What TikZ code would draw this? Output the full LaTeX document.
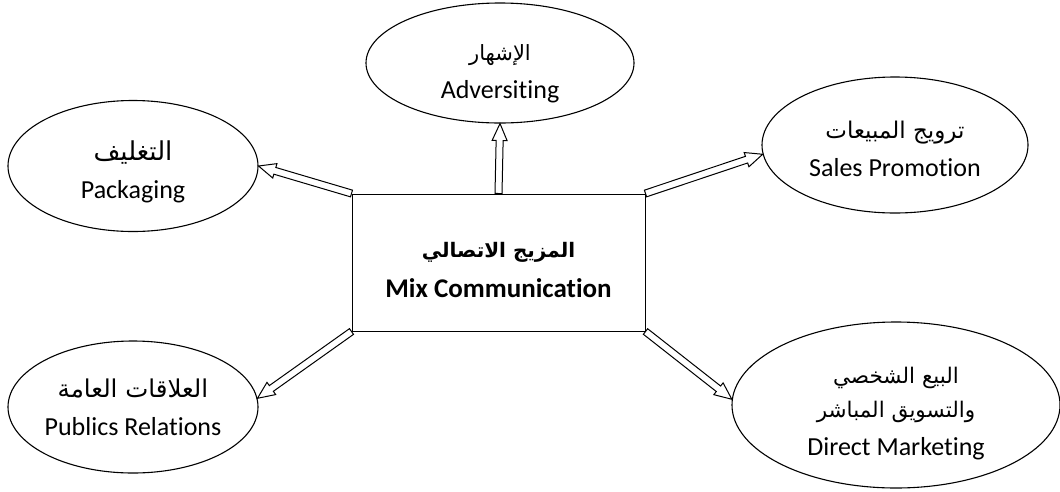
\documentclass[tikz,border=0pt]{standalone}
\usepackage{fontspec}
\setmainfont{Carlito}[Ligatures=CommonOff]
\newfontfamily\ar[Script=Arabic]{DejaVu Sans}
\TeXXeTstate=1
\usetikzlibrary{shapes.geometric,calc,backgrounds}
\newcommand\AR[2][23]{{\ar\fontsize{#1}{#1}\selectfont\beginR #2\endR}}
\newcommand\topgap[1]{\rule{0pt}{#1}}
\newcommand\blkarrow[2]{%
  \coordinate (hb) at ($(#2)!17pt!(#1)$);
  \draw[blockarrow] ($(#1)!3.5pt!90:(#2)$) -- ($(hb)!3.5pt!90:(#2)$)
    -- ($(hb)!7.5pt!90:(#2)$) -- (#2) -- ($(hb)!7.5pt!-90:(#2)$)
    -- ($(hb)!3.5pt!-90:(#2)$) -- ($(#1)!3.5pt!-90:(#2)$) -- cycle;}
\begin{document}
\begin{tikzpicture}[x=1pt,y=-1pt,
  bubble/.style={ellipse, draw, line width=1.1pt, inner sep=0pt, align=center,
    font=\fontsize{26}{38}\selectfont},
  mainbox/.style={rectangle, draw, line width=1pt, inner sep=0pt, align=center,
    font=\bfseries\fontsize{27}{40}\selectfont},
  blockarrow/.style={draw, line width=1pt, fill=white, line join=miter}]
\useasboundingbox (0,0) rectangle (1060,491);
\node[mainbox, minimum width=293, minimum height=137] (mc) at (498.5,262.5)
  {\topgap{30pt}{\bfseries\AR[20]{المزيج الاتصالي}}\\Mix Communication};
\node[bubble, minimum width=268, minimum height=120] (ad) at (500,63)
  {\topgap{38pt}\AR[21]{الإشهار}\\Adversiting};
\node[bubble, minimum width=250, minimum height=131] (pk) at (133,166)
  {\topgap{31pt}\AR[26]{التغليف}\\Packaging};
\node[bubble, minimum width=266, minimum height=136] (sp) at (895,145)
  {\topgap{26pt}\AR[23]{ترويج المبيعات}\\Sales Promotion};
\node[bubble, minimum width=250, minimum height=132] (pr) at (133,407)
  {\AR[24.5]{العلاقات العامة}\\Publics Relations};
\node[bubble, minimum width=328, minimum height=166] (dm) at (896,405)
  {\topgap{33pt}\AR[21.5]{البيع الشخصي}\\[-4pt]\AR[21.5]{والتسويق المباشر}\\Direct Marketing};
\begin{scope}[on background layer]
\blkarrow{mc.north}{ad.south}
\blkarrow{mc.north west}{pk.east}
\blkarrow{mc.north east}{sp.184}
\blkarrow{mc.south west}{pr.4}
\blkarrow{mc.south east}{dm.178}
\end{scope}
\end{tikzpicture}
\end{document}
